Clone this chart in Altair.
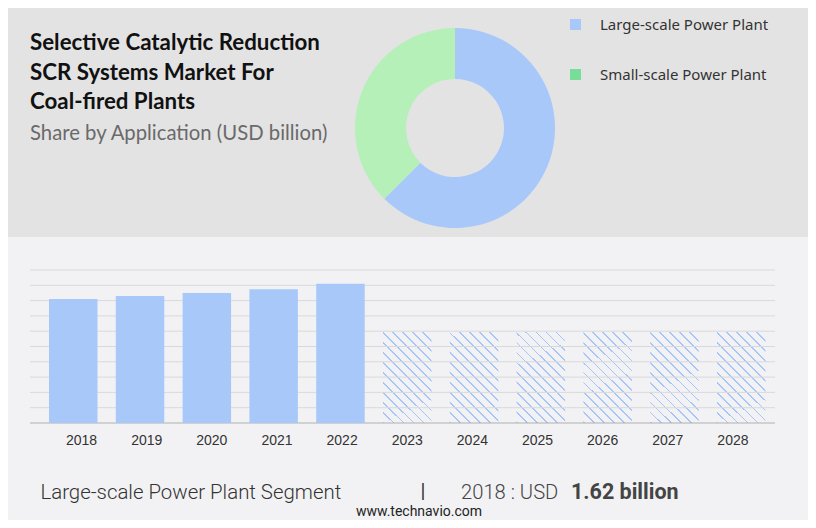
import altair as alt
import pandas as pd

# ---------------- data ----------------
title_lines = ["Selective Catalytic Reduction", "SCR Systems Market For", "Coal-fired Plants"]
subtitle = "Share by Application (USD billion)"
segments = ["Large-scale Power Plant", "Small-scale Power Plant"]
shares = [62.5, 37.5]
donut_colors = ["#a8c8fa", "#b5f0b9"]
legend_colors = ["#a8c8fa", "#77dd99"]

years = ["2018", "2019", "2020", "2021", "2022", "2023", "2024", "2025", "2026", "2027", "2028"]
hist_years = ["2018", "2019", "2020", "2021", "2022"]
hist_values = [1.62, 1.66, 1.70, 1.75, 1.82]
fc_years = ["2023", "2024", "2025", "2026", "2027", "2028"]
fc_values = [1.19, 1.19, 1.19, 1.19, 1.19, 1.19]
grid_values = [0.2, 0.4, 0.6, 0.8, 1.0, 1.2, 1.4, 1.6, 1.8, 2.0]

footer_segment = "Large-scale Power Plant Segment"
footer_year = "2018"
footer_value = "1.62 billion"
footer_site = "www.technavio.com"

# ---------------- scales ----------------
xscale = alt.Scale(domain=years, range=[41, 757.5], paddingInner=0.274, paddingOuter=0)
yscale = alt.Scale(domain=[0, 2], range=[415, 262], nice=False, zero=True)

BAR = "#a8c8fa"
BG = "#f2f2f4"
PANEL = "#e3e3e3"

# top grey panel
panel = alt.Chart(pd.DataFrame({"a": [0]})).mark_rect(color=PANEL).encode(
    x=alt.value(0), x2=alt.value(800), y=alt.value(0), y2=alt.value(229)
)

# donut
donut_df = pd.DataFrame({"segment": segments, "share": shares, "order": list(range(len(segments)))})
donut = alt.Chart(donut_df).mark_arc(innerRadius=49, outerRadius=100).encode(
    theta=alt.Theta("share:Q", stack=True),
    color=alt.Color("segment:N", scale=alt.Scale(domain=segments, range=donut_colors), legend=None),
    order=alt.Order("order:Q"),
    x=alt.value(447), y=alt.value(120),
)

# manual legend
leg_df = pd.DataFrame({"segment": segments, "c": legend_colors})
leg_y = alt.Y("segment:N", scale=alt.Scale(domain=segments, range=[16.5, 66.5], padding=0), axis=None)
leg_sq = alt.Chart(leg_df).mark_square(size=121, opacity=1).encode(
    x=alt.value(567.5), y=leg_y,
    color=alt.Color("c:N", scale=None, legend=None),
)
leg_txt = alt.Chart(leg_df).mark_text(
    align="left", baseline="middle", font="Noto Sans", fontSize=15, color="#333333"
).encode(x=alt.value(592), y=leg_y, text="segment:N")

# titles
title = alt.Chart(pd.DataFrame({"a": [0]})).mark_text(
    text=title_lines, align="left", baseline="alphabetic", font="Lato", fontWeight="bold",
    fontSize=22.3, lineHeight=29.5, color="#111111"
).encode(x=alt.value(22), y=alt.value(42))
sub = alt.Chart(pd.DataFrame({"a": [0]})).mark_text(
    text=subtitle, align="left", baseline="alphabetic", font="Lato",
    fontSize=20.3, color="#6a6a6a"
).encode(x=alt.value(22), y=alt.value(132))

# grid + baseline
grid = alt.Chart(pd.DataFrame({"v": grid_values})).mark_rule(color="#d9d9d9", strokeWidth=1).encode(
    y=alt.Y("v:Q", scale=yscale, axis=None), x=alt.value(22), x2=alt.value(767)
)
base = alt.Chart(pd.DataFrame({"v": [0]})).mark_rule(color="#b0b0b0", strokeWidth=1.2).encode(
    y=alt.Y("v:Q", scale=yscale, axis=None), x=alt.value(22), x2=alt.value(767)
)

# bars
hist = alt.Chart(pd.DataFrame({"year": hist_years, "value": hist_values})).mark_bar(color=BAR).encode(
    x=alt.X("year:N", scale=xscale, axis=None),
    y=alt.Y("value:Q", scale=yscale, axis=None),
)

# hatch pattern via striped linear gradient (vector chosen so stripes run at ~45 deg)
N = 14
stops = []
clear = BG
line = "#a6c5f8"
for k in range(N):
    a = k / N
    b = a + 0.18 / N
    stops += [
        alt.GradientStop(offset=a, color=line),
        alt.GradientStop(offset=b, color=line),
        alt.GradientStop(offset=b, color=clear),
        alt.GradientStop(offset=(k + 1) / N, color=clear),
    ]
hatch = alt.Gradient(gradient="linear", stops=stops, x1=0, y1=1, x2=0.63, y2=-0.195)
fc = alt.Chart(pd.DataFrame({"year": fc_years, "value": fc_values})).mark_bar(fill=hatch).encode(
    x=alt.X("year:N", scale=xscale, axis=None),
    y=alt.Y("value:Q", scale=yscale, axis=None),
)

labels = alt.Chart(pd.DataFrame({"year": years})).mark_text(
    font="Liberation Sans", fontSize=14, color="#333333", baseline="middle"
).encode(x=alt.X("year:N", scale=xscale, axis=None), y=alt.value(433), text="year:N")

# footer
FF = "Roboto"
f1 = alt.Chart(pd.DataFrame({"t": [footer_segment]})).mark_text(
    align="left", baseline="middle", font=FF, fontSize=20.4, fontWeight=300, color="#333333"
).encode(x=alt.value(32.5), y=alt.value(485), text="t:N")
f2 = alt.Chart(pd.DataFrame({"t": ["|"]})).mark_text(
    align="center", baseline="middle", font=FF, fontSize=20, color="#333333"
).encode(x=alt.value(415), y=alt.value(484), text="t:N")
f3 = alt.Chart(pd.DataFrame({"t": [footer_year + " : USD"]})).mark_text(
    align="left", baseline="middle", font=FF, fontSize=20.2, fontWeight=300, color="#444444"
).encode(x=alt.value(453), y=alt.value(485), text="t:N")
f4 = alt.Chart(pd.DataFrame({"t": [footer_value]})).mark_text(
    align="left", baseline="middle", font=FF, fontSize=21.5, fontWeight="bold", color="#444444"
).encode(x=alt.value(563), y=alt.value(485), text="t:N")
f5 = alt.Chart(pd.DataFrame({"t": [footer_site]})).mark_text(
    align="center", baseline="middle", font=FF, fontSize=14, color="#222222"
).encode(x=alt.value(411), y=alt.value(504), text="t:N")

chart = alt.layer(
    panel, donut, leg_sq, leg_txt, title, sub, fc, grid, base, hist, labels, f1, f2, f3, f4, f5
).resolve_scale(
    x="independent", y="independent", color="independent", theta="independent"
).properties(
    width=800, height=512, background=BG, padding=0,
    autosize=alt.AutoSizeParams(type="none"),
).configure_view(stroke=None)

chart.save("out.html", embed_options={"renderer": "svg", "actions": False})
